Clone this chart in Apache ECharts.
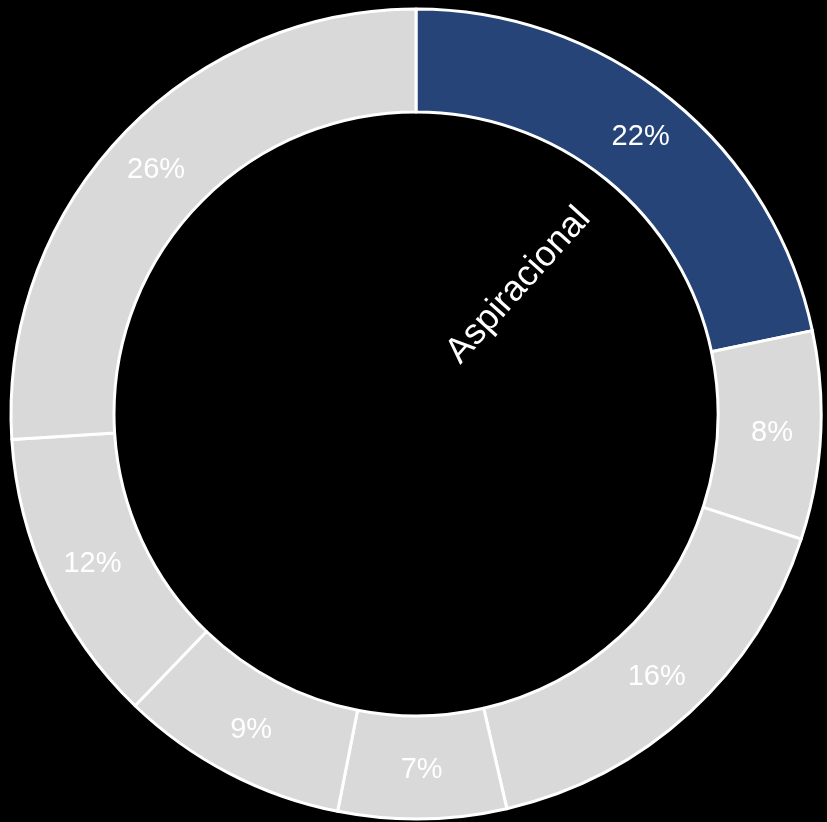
<!DOCTYPE html>
<html>
<head>
<meta charset="utf-8">
<script src="https://cdn.jsdelivr.net/npm/echarts@6/dist/echarts.min.js"></script>
<style>
  html, body { margin: 0; padding: 0; background: #000; }
  #chart { width: 827px; height: 822px; }
</style>
</head>
<body>
<div id="chart"></div>
<script>
  // 分类与数值（数值按图中扇区角度估读，标签显示取整后的百分比）
  var categories = ['Aspiracional', '', '', '', '', '', '']
  var values = [21.7, 8.3, 16.4, 6.7, 9.1, 11.8, 26.0]
  var labels = ['22%', '8%', '16%', '7%', '9%', '12%', '26%']
  var colors = ['#264478', '#d9d9d9', '#d9d9d9', '#d9d9d9', '#d9d9d9', '#d9d9d9', '#d9d9d9']

  var cx = 416, cy = 414
  var total = values.reduce(function (a, b) { return a + b }, 0)
  // 第一块扇区的中间角度（从12点方向顺时针），文字略微放平一点
  var midDeg = 90 - (values[0] / total * 360) / 2 - 3

  var chart = echarts.init(document.getElementById('chart'))
  chart.setOption({
    backgroundColor: '#000',
    animation: false,
    series: [{
      type: 'pie',
      center: [cx, cy],
      radius: [302, 405],
      startAngle: 90,
      clockwise: true,
      avoidLabelOverlap: false,
      itemStyle: { borderColor: '#fff', borderWidth: 3 },
      label: {
        show: true,
        position: 'inside',
        formatter: function (p) { return labels[p.dataIndex] },
        color: '#fff',
        fontSize: 29,
        fontFamily: 'Liberation Sans, Arial, sans-serif',
        padding: [6, 0, 0, 0]
      },
      labelLine: { show: false },
      emphasis: { disabled: true },
      data: values.map(function (v, i) {
        return { name: categories[i], value: v, itemStyle: { color: colors[i] } }
      })
    }],
    graphic: [{
      type: 'group',
      x: cx,
      y: cy,
      rotation: midDeg * Math.PI / 180,
      children: [{
        type: 'text',
        x: 66,
        y: 8,
        style: {
          text: categories[0],
          fill: '#fff',
          fontSize: 36,
          fontFamily: 'Liberation Sans, Arial, sans-serif',
          textAlign: 'left',
          textVerticalAlign: 'bottom'
        }
      }]
    }]
  })
</script>
</body>
</html>
